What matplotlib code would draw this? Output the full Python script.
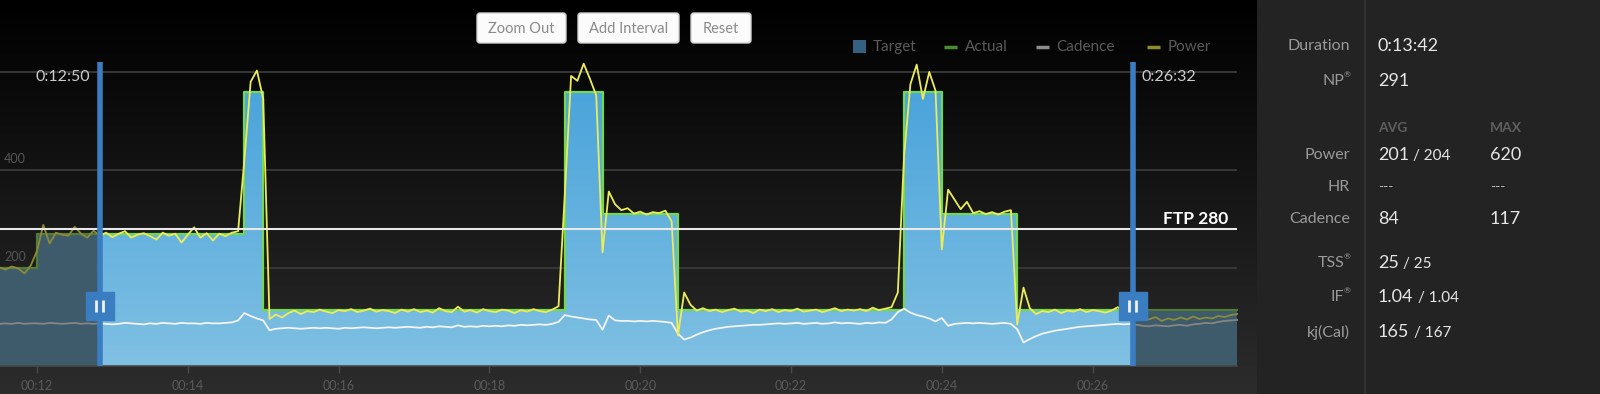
import numpy as np
import matplotlib
matplotlib.use('Agg')
import matplotlib.pyplot as plt
from matplotlib.colors import LinearSegmentedColormap
from matplotlib.patches import Rectangle, Polygon, FancyBboxPatch
from matplotlib.transforms import offset_copy

# ride samples, one every 5 s from 11:30 (minutes on the x axis)
SAMPLE_START = 11.5
SAMPLE_STEP = 5 / 60

POWER = [
    201, 197, 203, 199, 189, 205,
    235, 288, 250, 272, 268, 266, 284, 270, 262, 276,
    266, 272, 263, 270, 275, 262, 268, 271, 265, 258, 272, 266, 270, 252, 268, 283,
    262, 271, 256, 270, 265, 272, 275,
    420, 580, 603, 545,
    96, 105, 99, 108, 113, 106, 112, 110, 115, 111, 108, 114, 112, 116, 110, 113,
    117, 111, 114, 112, 108, 115, 111, 116, 110, 113, 109, 118, 112, 110, 121, 111,
    114, 109, 116, 112, 110, 115, 113, 108, 114, 111, 116, 112, 110, 115, 122,
    350, 592, 582, 617, 586, 552, 232,
    356, 330, 318, 322, 311, 315, 309, 314, 312, 317, 295,
    62, 150, 125, 113, 118, 112, 115, 110, 114, 117, 111, 113, 108, 115, 112, 116,
    110, 114, 112, 117, 111, 113, 115, 110, 114, 118, 112, 115, 113, 116, 112, 119,
    114, 117, 120, 150,
    430, 575, 615, 545, 600, 562, 238,
    360, 340, 320, 335, 312, 316, 310, 314, 309, 315, 318,
    85, 160, 118, 106, 112, 110, 115, 108, 113, 111, 116, 110, 114, 112, 109, 113,
    120, 111, 114, 104, 98, 95, 100, 92, 97, 94, 99, 95, 101, 96, 99, 97, 102, 100,
    104, 106,
]

CADENCE = [
    86, 87, 86, 88, 86, 87,
    87, 86, 88, 87, 86, 87, 88, 86, 87, 86,
    87, 86, 85, 86, 88, 87, 86, 85, 87, 86, 88, 87, 86, 88, 87, 87,
    86, 88, 87, 87, 88, 89, 93,
    108, 102, 97, 93,
    73, 76, 77, 78, 77, 76, 77, 78, 77, 78, 77, 76, 78, 77, 78, 79,
    78, 77, 78, 79, 78, 79, 80, 79, 78, 80, 79, 81, 80, 79, 83, 80,
    81, 80, 82, 81, 82, 81, 83, 82, 84, 83, 84, 85, 84, 86, 90,
    104, 101, 99, 97, 95, 94, 74,
    103, 93, 92, 92, 91, 92, 91, 92, 91, 90, 88,
    66, 54, 58, 64, 69, 73, 76, 78, 80, 81, 82, 83, 84, 84, 85, 86,
    87, 86, 87, 88, 86, 87, 88, 86, 87, 89, 87, 88, 87, 86, 88, 87,
    89, 88, 95, 110,
    117, 109, 104, 101, 97, 91, 98,
    82, 86, 87, 88, 87, 88, 87, 86, 87, 88, 86,
    75, 48, 55, 61, 66, 69, 72, 74, 76, 78, 80, 81, 82, 83, 84, 85,
    86, 85, 86, 84, 82, 81, 83, 82, 81, 83, 84, 82, 85, 86, 88, 87,
    90, 92, 93, 94,
]

TARGET_START = [11.5, 12.0, 14.75, 15.0, 19.0, 19.5, 20.5, 23.5, 24.0, 25.0]
TARGET_WATTS = [200, 270, 560, 115, 560, 310, 115, 560, 310, 115]
TARGET_END = 27.92

SELECTION = [12 + 50 / 60, 26 + 32 / 60]
SELECTION_LABELS = ['0:12:50', '0:26:32']
FTP = 280
GRID_WATTS = [200, 400, 600]
YLABEL_WATTS = [200, 400]
XTICKS = [12, 14, 16, 18, 20, 22, 24, 26]
XTICK_LABELS = ['00:12', '00:14', '00:16', '00:18', '00:20', '00:22', '00:24', '00:26']
XLIM = (11.509, 27.915)

BUTTONS = ['Zoom Out', 'Add Interval', 'Reset']
LEGEND_LABELS = ['Target', 'Actual', 'Cadence', 'Power']

STAT_LABELS = ['Duration', 'NP', 'Power', 'HR', 'Cadence', 'TSS', 'IF', 'kj(Cal)']
STAT_MARKED = ['NP', 'TSS', 'IF']
STAT_VALUES = ['0:13:42', '291', '201', '---', '84', '25', '1.04', '165']
STAT_SECOND = ['', '', '/ 204', '', '', '/ 25', '/ 1.04', '/ 167']
STAT_MAX = ['', '', '620', '---', '117', '', '', '']


def clipped_plot(ax, x, y, bright, dim, lw, z):
    spans = [(SELECTION[0], SELECTION[1], bright),
             (XLIM[0] - 1, SELECTION[0], dim),
             (SELECTION[1], XLIM[1] + 1, dim)]
    for x0, x1, c in spans:
        ln, = ax.plot(x, y, color=c, lw=lw, zorder=z, solid_joinstyle='round')
        ln.set_clip_path(Rectangle((x0, -100), x1 - x0, 2000, transform=ax.transData))


def main():
    plt.rcParams['font.family'] = ['Lato', 'DejaVu Sans']
    fig = plt.figure(figsize=(16, 3.94), dpi=100, facecolor='#232323')

    # dark gradient behind the chart
    bg = fig.add_axes([0, 0, 1257 / 1600, 1], zorder=0)
    bg.imshow(np.linspace(0, 1, 256)[:, None], aspect='auto', extent=[0, 1, 0, 1], origin='upper',
              cmap=LinearSegmentedColormap.from_list('bg', ['#000000', '#2c2c2c']))
    bg.axis('off')

    ax = fig.add_axes([0, 28 / 394, 1237 / 1600, 366 / 394], zorder=1)
    ax.set_facecolor('none')

    t = SAMPLE_START + SAMPLE_STEP * np.arange(len(POWER))
    tx = np.repeat(TARGET_START + [TARGET_END], 2)[1:-1]
    ty = np.repeat(TARGET_WATTS, 2)
    verts = np.column_stack([np.r_[tx, tx[::-1]], np.r_[ty, np.zeros_like(ty)]])

    for w in GRID_WATTS:
        ax.axhline(w, color='#3a3a3a', lw=1.3, zorder=1)

    # target area: blue gradient inside the selection, slate outside
    shape = Polygon(verts, closed=True, transform=ax.transData)
    im = ax.imshow(np.linspace(0, 1, 256)[:, None], aspect='auto', origin='lower',
                   extent=[tx[0], tx[-1], 0, 620], zorder=2,
                   cmap=LinearSegmentedColormap.from_list('tg', ['#80c0e3', '#45a1da']))
    im.set_clip_path(shape)
    for x0, x1 in [(XLIM[0] - 1, SELECTION[0]), (SELECTION[1], XLIM[1] + 1)]:
        p = ax.add_patch(Polygon(verts, closed=True, fc='#3e5b6c', lw=0, zorder=2.5))
        p.set_clip_path(Rectangle((x0, -100), x1 - x0, 2000, transform=ax.transData))

    clipped_plot(ax, tx, ty, '#74d84c', '#4f7d33', 1.6, 3)
    clipped_plot(ax, t, CADENCE, '#f4f4f4', '#858585', 1.3, 4)
    clipped_plot(ax, t, POWER, '#ecec58', '#8c8b3a', 1.3, 5)

    ax.axhline(FTP, color='#e8e8e8', lw=1.5, zorder=6)
    ax.annotate(f'FTP {FTP}', xy=(1, FTP), xycoords=('axes fraction', 'data'), xytext=(-6, 7),
                textcoords='offset points', ha='right', va='center', fontsize=12.5,
                fontweight='bold', color='white', zorder=9)
    for w in YLABEL_WATTS:
        ax.annotate(str(w), xy=(0, w), xycoords=('axes fraction', 'data'), xytext=(3, 8),
                    textcoords='offset points', ha='left', va='center', fontsize=9, color='#555555')

    # selection markers
    ax.vlines(SELECTION, 0, 620, color='#3b7dc1', lw=4, zorder=7)
    xt = ax.get_xaxis_transform()
    for s, lab, dx, ha in zip(SELECTION, SELECTION_LABELS, [-7, 6], ['right', 'left']):
        ax.plot([s], [0.164], marker='s', markersize=19.5, color='#3a7dc0', transform=xt,
                zorder=8, clip_on=False)
        for off in (-3.4, 3.4):
            ax.plot([s], [0.164], marker='|', markersize=8.6, mew=2.0, color='#f2f2f2', zorder=9,
                    transform=offset_copy(xt, fig=fig, x=off, y=0, units='dots'))
        ax.annotate(lab, xy=(s, 0.79), xycoords=xt, xytext=(dx, 0), textcoords='offset points',
                    ha=ha, va='center', fontsize=11.5, color='#cccccc')

    ax.set_xlim(*XLIM)
    ax.set_ylim(0, 366 / 0.49)
    ax.set_xticks(XTICKS, XTICK_LABELS)
    ax.set_yticks([])
    ax.tick_params(axis='x', length=5, width=1, color='#4a4a4a', labelcolor='#5a5a5a',
                   labelsize=9, pad=5)
    for side in ['top', 'left', 'right']:
        ax.spines[side].set_visible(False)
    ax.spines['bottom'].set_color('#474747')
    ax.spines['bottom'].set_linewidth(1.2)

    # interface layer in pixel coordinates
    ui = fig.add_axes([0, 0, 1, 1], zorder=2)
    ui.set_xlim(0, 1600)
    ui.set_ylim(394, 0)
    ui.axis('off')

    for lab, (x0, w) in zip(BUTTONS, [(477, 89), (578, 101), (691, 60)]):
        ui.add_patch(FancyBboxPatch((x0, 13), w, 30, boxstyle='round,pad=0,rounding_size=3',
                                    fc='#fbfbfb', ec='#cfcfcf', lw=1))
        ui.text(x0 + w / 2, 28.5, lab, ha='center', va='center', fontsize=10.5, color='#8a8a8a')

    ui.add_patch(Rectangle((853, 40), 13, 13, fc='#33617f', lw=0))
    for x0, c in [(944, '#4a8f2f'), (1036, '#8c8c8c'), (1147, '#8e8b2e')]:
        ui.plot([x0, x0 + 13], [46.5, 46.5], color=c, lw=2.5, solid_capstyle='butt')
    for lab, x0 in zip(LEGEND_LABELS, [873, 965, 1056, 1168]):
        ui.text(x0, 46.5, lab, ha='left', va='center', fontsize=11, color='#5a5a5a')

    # stats panel
    ui.plot([1365, 1365], [0, 394], color='#353535', lw=1.2)
    rows = [46, 81, 155, 187, 219, 263, 297, 332]
    for lab, val, sec, mx, y in zip(STAT_LABELS, STAT_VALUES, STAT_SECOND, STAT_MAX, rows):
        marked = lab in STAT_MARKED
        ui.text(1350 - (6 if marked else 0), y, lab, ha='right', va='center', fontsize=11.5,
                color='#9a9a9a')
        if marked:
            ui.text(1351, y - 6, '®', ha='right', va='center', fontsize=6, color='#9a9a9a')
        dash = val == '---'
        txt = ui.text(1378, y, val, ha='left', va='center', fontsize=10 if dash else 13,
                      color='#bdbdbd' if dash else '#e6e6e6')
        if sec:
            ui.annotate(sec, xy=(1, 0), xycoords=txt, xytext=(3, 0), textcoords='offset points',
                        ha='left', va='bottom', fontsize=11, color='#e6e6e6')
        if mx:
            ui.text(1490, y, mx, ha='left', va='center', fontsize=10 if mx == '---' else 13,
                    color='#bdbdbd' if mx == '---' else '#e6e6e6')
    for lab, x0 in zip(['AVG', 'MAX'], [1378, 1490]):
        ui.text(x0, 128, lab, ha='left', va='center', fontsize=10, fontweight='bold',
                color='#5e5e5e')

    fig.savefig('out.png', dpi=100, facecolor=fig.get_facecolor())


if __name__ == '__main__':
    main()
